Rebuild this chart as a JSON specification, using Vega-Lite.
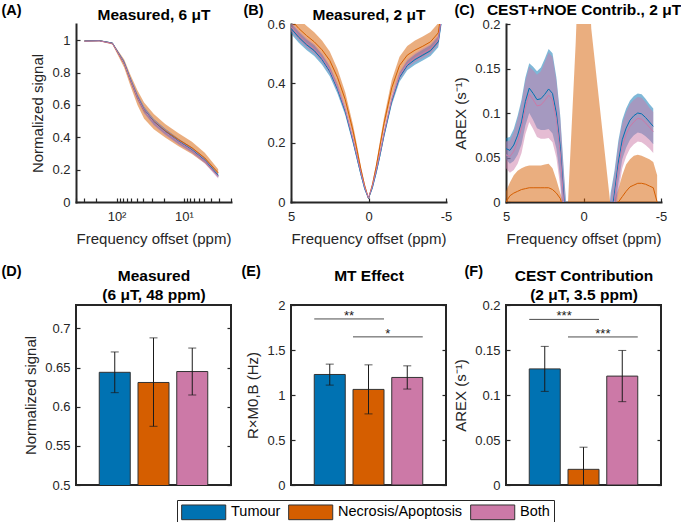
{
"$schema": "https://vega.github.io/schema/vega-lite/v6.json",
"background": "white",
"padding": {"left": 0, "top": 2, "right": 0, "bottom": 0},
"config": {
 "font": "Liberation Sans",
 "view": {"stroke": null},
 "axis": {"grid": false, "domainColor": "#262626", "domainWidth": 2, "domainCap": "square", "tickColor": "#262626", "tickWidth": 1.2, "tickSize": -4, "labelFontSize": 13, "labelColor": "#262626", "titleFontSize": 15, "titleFontWeight": "normal", "titleColor": "#262626", "labelOverlap": false, "labelFlush": false},
 "axisX": {"labelPadding": 12, "titlePadding": 8},
 "axisY": {"labelPadding": 10, "titlePadding": 6}
},
"datasets": {
 "A": [
  {"g":"Necrosis/Apoptosis","x":300,"m":0.995,"lo":0.992,"hi":0.998},
  {"g":"Necrosis/Apoptosis","x":180,"m":0.997,"lo":0.994,"hi":1.0},
  {"g":"Necrosis/Apoptosis","x":115,"m":0.98,"lo":0.974,"hi":0.986},
  {"g":"Necrosis/Apoptosis","x":77,"m":0.855,"lo":0.83,"hi":0.88},
  {"g":"Necrosis/Apoptosis","x":62,"m":0.75,"lo":0.715,"hi":0.785},
  {"g":"Necrosis/Apoptosis","x":49,"m":0.645,"lo":0.6,"hi":0.69},
  {"g":"Necrosis/Apoptosis","x":39,"m":0.565,"lo":0.515,"hi":0.615},
  {"g":"Necrosis/Apoptosis","x":28,"m":0.497,"lo":0.45,"hi":0.544},
  {"g":"Necrosis/Apoptosis","x":19,"m":0.44,"lo":0.398,"hi":0.482},
  {"g":"Necrosis/Apoptosis","x":12,"m":0.385,"lo":0.345,"hi":0.425},
  {"g":"Necrosis/Apoptosis","x":7.6,"m":0.335,"lo":0.297,"hi":0.373},
  {"g":"Necrosis/Apoptosis","x":4.9,"m":0.272,"lo":0.24,"hi":0.304},
  {"g":"Necrosis/Apoptosis","x":3.1,"m":0.18,"lo":0.158,"hi":0.202},
  {"g":"Tumour","x":300,"m":0.995,"lo":0.993,"hi":0.997},
  {"g":"Tumour","x":180,"m":0.997,"lo":0.995,"hi":0.999},
  {"g":"Tumour","x":115,"m":0.982,"lo":0.979,"hi":0.985},
  {"g":"Tumour","x":77,"m":0.86,"lo":0.848,"hi":0.872},
  {"g":"Tumour","x":62,"m":0.755,"lo":0.74,"hi":0.77},
  {"g":"Tumour","x":49,"m":0.65,"lo":0.632,"hi":0.668},
  {"g":"Tumour","x":39,"m":0.57,"lo":0.552,"hi":0.588},
  {"g":"Tumour","x":28,"m":0.495,"lo":0.477,"hi":0.513},
  {"g":"Tumour","x":19,"m":0.435,"lo":0.418,"hi":0.452},
  {"g":"Tumour","x":12,"m":0.375,"lo":0.359,"hi":0.391},
  {"g":"Tumour","x":7.6,"m":0.322,"lo":0.307,"hi":0.337},
  {"g":"Tumour","x":4.9,"m":0.258,"lo":0.244,"hi":0.272},
  {"g":"Tumour","x":3.1,"m":0.163,"lo":0.151,"hi":0.175},
  {"g":"Both","x":300,"m":0.994,"lo":0.992,"hi":0.996},
  {"g":"Both","x":180,"m":0.996,"lo":0.994,"hi":0.998},
  {"g":"Both","x":115,"m":0.98,"lo":0.976,"hi":0.984},
  {"g":"Both","x":77,"m":0.857,"lo":0.843,"hi":0.871},
  {"g":"Both","x":62,"m":0.752,"lo":0.735,"hi":0.769},
  {"g":"Both","x":49,"m":0.647,"lo":0.627,"hi":0.667},
  {"g":"Both","x":39,"m":0.567,"lo":0.547,"hi":0.587},
  {"g":"Both","x":28,"m":0.492,"lo":0.472,"hi":0.512},
  {"g":"Both","x":19,"m":0.432,"lo":0.413,"hi":0.451},
  {"g":"Both","x":12,"m":0.372,"lo":0.354,"hi":0.39},
  {"g":"Both","x":7.6,"m":0.318,"lo":0.301,"hi":0.335},
  {"g":"Both","x":4.9,"m":0.254,"lo":0.238,"hi":0.27},
  {"g":"Both","x":3.1,"m":0.158,"lo":0.145,"hi":0.171}
 ],
 "B": [
  {"g":"Necrosis/Apoptosis","x":5,"m":0.615,"lo":0.582,"hi":0.648},
  {"g":"Necrosis/Apoptosis","x":4.5,"m":0.585,"lo":0.552,"hi":0.618},
  {"g":"Necrosis/Apoptosis","x":4,"m":0.561,"lo":0.528,"hi":0.594},
  {"g":"Necrosis/Apoptosis","x":3.5,"m":0.54,"lo":0.508,"hi":0.572},
  {"g":"Necrosis/Apoptosis","x":3,"m":0.513,"lo":0.482,"hi":0.544},
  {"g":"Necrosis/Apoptosis","x":2.5,"m":0.477,"lo":0.447,"hi":0.507},
  {"g":"Necrosis/Apoptosis","x":2,"m":0.42,"lo":0.392,"hi":0.448},
  {"g":"Necrosis/Apoptosis","x":1.5,"m":0.345,"lo":0.32,"hi":0.37},
  {"g":"Necrosis/Apoptosis","x":1,"m":0.24,"lo":0.22,"hi":0.26},
  {"g":"Necrosis/Apoptosis","x":0.75,"m":0.178,"lo":0.162,"hi":0.194},
  {"g":"Necrosis/Apoptosis","x":0.5,"m":0.112,"lo":0.101,"hi":0.123},
  {"g":"Necrosis/Apoptosis","x":0.25,"m":0.056,"lo":0.05,"hi":0.062},
  {"g":"Necrosis/Apoptosis","x":0,"m":0.012,"lo":0.009,"hi":0.015},
  {"g":"Necrosis/Apoptosis","x":-0.25,"m":0.058,"lo":0.052,"hi":0.064},
  {"g":"Necrosis/Apoptosis","x":-0.5,"m":0.12,"lo":0.109,"hi":0.131},
  {"g":"Necrosis/Apoptosis","x":-0.75,"m":0.193,"lo":0.177,"hi":0.209},
  {"g":"Necrosis/Apoptosis","x":-1,"m":0.265,"lo":0.245,"hi":0.285},
  {"g":"Necrosis/Apoptosis","x":-1.5,"m":0.385,"lo":0.359,"hi":0.411},
  {"g":"Necrosis/Apoptosis","x":-2,"m":0.46,"lo":0.43,"hi":0.49},
  {"g":"Necrosis/Apoptosis","x":-2.5,"m":0.495,"lo":0.464,"hi":0.526},
  {"g":"Necrosis/Apoptosis","x":-3,"m":0.512,"lo":0.48,"hi":0.544},
  {"g":"Necrosis/Apoptosis","x":-3.5,"m":0.525,"lo":0.492,"hi":0.558},
  {"g":"Necrosis/Apoptosis","x":-4,"m":0.54,"lo":0.507,"hi":0.573},
  {"g":"Necrosis/Apoptosis","x":-4.5,"m":0.57,"lo":0.537,"hi":0.603},
  {"g":"Necrosis/Apoptosis","x":-5,"m":0.75,"lo":0.717,"hi":0.783},
  {"g":"Tumour","x":5,"m":0.585,"lo":0.567,"hi":0.603},
  {"g":"Tumour","x":4.5,"m":0.555,"lo":0.537,"hi":0.573},
  {"g":"Tumour","x":4,"m":0.53,"lo":0.512,"hi":0.548},
  {"g":"Tumour","x":3.5,"m":0.51,"lo":0.492,"hi":0.528},
  {"g":"Tumour","x":3,"m":0.48,"lo":0.463,"hi":0.497},
  {"g":"Tumour","x":2.5,"m":0.44,"lo":0.424,"hi":0.456},
  {"g":"Tumour","x":2,"m":0.38,"lo":0.365,"hi":0.395},
  {"g":"Tumour","x":1.5,"m":0.305,"lo":0.292,"hi":0.318},
  {"g":"Tumour","x":1,"m":0.205,"lo":0.195,"hi":0.215},
  {"g":"Tumour","x":0.75,"m":0.15,"lo":0.142,"hi":0.158},
  {"g":"Tumour","x":0.5,"m":0.095,"lo":0.089,"hi":0.101},
  {"g":"Tumour","x":0.25,"m":0.045,"lo":0.041,"hi":0.049},
  {"g":"Tumour","x":0,"m":0.012,"lo":0.01,"hi":0.014},
  {"g":"Tumour","x":-0.25,"m":0.048,"lo":0.044,"hi":0.052},
  {"g":"Tumour","x":-0.5,"m":0.1,"lo":0.094,"hi":0.106},
  {"g":"Tumour","x":-0.75,"m":0.16,"lo":0.152,"hi":0.168},
  {"g":"Tumour","x":-1,"m":0.225,"lo":0.215,"hi":0.235},
  {"g":"Tumour","x":-1.5,"m":0.34,"lo":0.327,"hi":0.353},
  {"g":"Tumour","x":-2,"m":0.42,"lo":0.405,"hi":0.435},
  {"g":"Tumour","x":-2.5,"m":0.46,"lo":0.444,"hi":0.476},
  {"g":"Tumour","x":-3,"m":0.48,"lo":0.463,"hi":0.497},
  {"g":"Tumour","x":-3.5,"m":0.495,"lo":0.477,"hi":0.513},
  {"g":"Tumour","x":-4,"m":0.51,"lo":0.492,"hi":0.528},
  {"g":"Tumour","x":-4.5,"m":0.54,"lo":0.522,"hi":0.558},
  {"g":"Tumour","x":-5,"m":0.72,"lo":0.702,"hi":0.738},
  {"g":"Both","x":5,"m":0.591,"lo":0.575,"hi":0.607},
  {"g":"Both","x":4.5,"m":0.561,"lo":0.545,"hi":0.577},
  {"g":"Both","x":4,"m":0.536,"lo":0.52,"hi":0.552},
  {"g":"Both","x":3.5,"m":0.516,"lo":0.5,"hi":0.532},
  {"g":"Both","x":3,"m":0.486,"lo":0.471,"hi":0.501},
  {"g":"Both","x":2.5,"m":0.446,"lo":0.432,"hi":0.46},
  {"g":"Both","x":2,"m":0.386,"lo":0.373,"hi":0.399},
  {"g":"Both","x":1.5,"m":0.311,"lo":0.3,"hi":0.322},
  {"g":"Both","x":1,"m":0.211,"lo":0.202,"hi":0.22},
  {"g":"Both","x":0.75,"m":0.156,"lo":0.149,"hi":0.163},
  {"g":"Both","x":0.5,"m":0.1,"lo":0.095,"hi":0.105},
  {"g":"Both","x":0.25,"m":0.05,"lo":0.046,"hi":0.054},
  {"g":"Both","x":0,"m":0.013,"lo":0.011,"hi":0.015},
  {"g":"Both","x":-0.25,"m":0.053,"lo":0.049,"hi":0.057},
  {"g":"Both","x":-0.5,"m":0.106,"lo":0.1,"hi":0.112},
  {"g":"Both","x":-0.75,"m":0.166,"lo":0.159,"hi":0.173},
  {"g":"Both","x":-1,"m":0.231,"lo":0.222,"hi":0.24},
  {"g":"Both","x":-1.5,"m":0.346,"lo":0.334,"hi":0.358},
  {"g":"Both","x":-2,"m":0.426,"lo":0.412,"hi":0.44},
  {"g":"Both","x":-2.5,"m":0.466,"lo":0.452,"hi":0.48},
  {"g":"Both","x":-3,"m":0.486,"lo":0.471,"hi":0.501},
  {"g":"Both","x":-3.5,"m":0.501,"lo":0.485,"hi":0.517},
  {"g":"Both","x":-4,"m":0.516,"lo":0.5,"hi":0.532},
  {"g":"Both","x":-4.5,"m":0.546,"lo":0.53,"hi":0.562},
  {"g":"Both","x":-5,"m":0.726,"lo":0.71,"hi":0.742}
 ],
 "C": [
  {"g":"Necrosis/Apoptosis","x":5,"m":0.0,"lo":-0.012,"hi":0.012},
  {"g":"Necrosis/Apoptosis","x":4.75,"m":0.007,"lo":-0.008,"hi":0.022},
  {"g":"Necrosis/Apoptosis","x":4.5,"m":0.01,"lo":-0.01,"hi":0.03},
  {"g":"Necrosis/Apoptosis","x":4.25,"m":0.012,"lo":-0.011,"hi":0.035},
  {"g":"Necrosis/Apoptosis","x":4,"m":0.014,"lo":-0.01,"hi":0.038},
  {"g":"Necrosis/Apoptosis","x":3.75,"m":0.015,"lo":-0.01,"hi":0.04},
  {"g":"Necrosis/Apoptosis","x":3.5,"m":0.016,"lo":-0.009,"hi":0.041},
  {"g":"Necrosis/Apoptosis","x":3.25,"m":0.016,"lo":-0.009,"hi":0.041},
  {"g":"Necrosis/Apoptosis","x":3,"m":0.016,"lo":-0.009,"hi":0.041},
  {"g":"Necrosis/Apoptosis","x":2.75,"m":0.016,"lo":-0.009,"hi":0.041},
  {"g":"Necrosis/Apoptosis","x":2.5,"m":0.016,"lo":-0.01,"hi":0.042},
  {"g":"Necrosis/Apoptosis","x":2.25,"m":0.016,"lo":-0.011,"hi":0.043},
  {"g":"Necrosis/Apoptosis","x":2,"m":0.014,"lo":-0.01,"hi":0.038},
  {"g":"Necrosis/Apoptosis","x":1.75,"m":0.01,"lo":-0.005,"hi":0.025},
  {"g":"Necrosis/Apoptosis","x":1.5,"m":0.004,"lo":-0.002,"hi":0.01},
  {"g":"Necrosis/Apoptosis","x":1.25,"m":-0.01,"lo":-0.018,"hi":-0.002},
  {"g":"Necrosis/Apoptosis","x":1,"m":-0.03,"lo":-0.06,"hi":0.0},
  {"g":"Necrosis/Apoptosis","x":0.75,"m":-0.06,"lo":-0.21,"hi":0.09},
  {"g":"Necrosis/Apoptosis","x":0.5,"m":-0.1,"lo":-0.38,"hi":0.18},
  {"g":"Necrosis/Apoptosis","x":0.25,"m":-0.15,"lo":-0.6,"hi":0.3},
  {"g":"Necrosis/Apoptosis","x":0,"m":-0.2,"lo":-0.8,"hi":0.4},
  {"g":"Necrosis/Apoptosis","x":-0.25,"m":-0.15,"lo":-0.6,"hi":0.3},
  {"g":"Necrosis/Apoptosis","x":-0.5,"m":-0.1,"lo":-0.395,"hi":0.195},
  {"g":"Necrosis/Apoptosis","x":-0.75,"m":-0.07,"lo":-0.295,"hi":0.155},
  {"g":"Necrosis/Apoptosis","x":-1,"m":-0.04,"lo":-0.195,"hi":0.115},
  {"g":"Necrosis/Apoptosis","x":-1.25,"m":-0.03,"lo":-0.135,"hi":0.075},
  {"g":"Necrosis/Apoptosis","x":-1.5,"m":-0.02,"lo":-0.075,"hi":0.035},
  {"g":"Necrosis/Apoptosis","x":-1.75,"m":-0.012,"lo":-0.019,"hi":-0.005},
  {"g":"Necrosis/Apoptosis","x":-2,"m":-0.005,"lo":-0.013,"hi":0.003},
  {"g":"Necrosis/Apoptosis","x":-2.25,"m":0.0,"lo":-0.015,"hi":0.015},
  {"g":"Necrosis/Apoptosis","x":-2.5,"m":0.006,"lo":-0.018,"hi":0.03},
  {"g":"Necrosis/Apoptosis","x":-2.75,"m":0.012,"lo":-0.018,"hi":0.042},
  {"g":"Necrosis/Apoptosis","x":-3,"m":0.017,"lo":-0.014,"hi":0.048},
  {"g":"Necrosis/Apoptosis","x":-3.25,"m":0.019,"lo":-0.014,"hi":0.052},
  {"g":"Necrosis/Apoptosis","x":-3.5,"m":0.021,"lo":-0.011,"hi":0.053},
  {"g":"Necrosis/Apoptosis","x":-3.75,"m":0.021,"lo":-0.01,"hi":0.052},
  {"g":"Necrosis/Apoptosis","x":-4,"m":0.02,"lo":-0.01,"hi":0.05},
  {"g":"Necrosis/Apoptosis","x":-4.25,"m":0.018,"lo":-0.012,"hi":0.048},
  {"g":"Necrosis/Apoptosis","x":-4.5,"m":0.016,"lo":-0.013,"hi":0.045},
  {"g":"Necrosis/Apoptosis","x":-4.75,"m":0.0,"lo":-0.03,"hi":0.03},
  {"g":"Tumour","x":5,"m":0.06,"lo":0.048,"hi":0.072},
  {"g":"Tumour","x":4.75,"m":0.058,"lo":0.043,"hi":0.073},
  {"g":"Tumour","x":4.5,"m":0.064,"lo":0.046,"hi":0.082},
  {"g":"Tumour","x":4.25,"m":0.075,"lo":0.053,"hi":0.097},
  {"g":"Tumour","x":4,"m":0.09,"lo":0.065,"hi":0.115},
  {"g":"Tumour","x":3.75,"m":0.113,"lo":0.086,"hi":0.14},
  {"g":"Tumour","x":3.5,"m":0.128,"lo":0.1,"hi":0.156},
  {"g":"Tumour","x":3.25,"m":0.122,"lo":0.092,"hi":0.152},
  {"g":"Tumour","x":3,"m":0.115,"lo":0.083,"hi":0.147},
  {"g":"Tumour","x":2.75,"m":0.116,"lo":0.081,"hi":0.151},
  {"g":"Tumour","x":2.5,"m":0.121,"lo":0.081,"hi":0.161},
  {"g":"Tumour","x":2.25,"m":0.127,"lo":0.082,"hi":0.172},
  {"g":"Tumour","x":2,"m":0.122,"lo":0.077,"hi":0.167},
  {"g":"Tumour","x":1.75,"m":0.1,"lo":0.06,"hi":0.14},
  {"g":"Tumour","x":1.5,"m":0.062,"lo":0.027,"hi":0.097},
  {"g":"Tumour","x":1.25,"m":0.0,"lo":-0.03,"hi":0.03},
  {"g":"Tumour","x":1,"m":-0.06,"lo":-0.09,"hi":-0.03},
  {"g":"Tumour","x":0.5,"m":-0.3,"lo":-0.33,"hi":-0.27},
  {"g":"Tumour","x":0,"m":-0.5,"lo":-0.53,"hi":-0.47},
  {"g":"Tumour","x":-0.5,"m":-0.3,"lo":-0.33,"hi":-0.27},
  {"g":"Tumour","x":-1,"m":-0.15,"lo":-0.18,"hi":-0.12},
  {"g":"Tumour","x":-1.5,"m":-0.08,"lo":-0.11,"hi":-0.05},
  {"g":"Tumour","x":-1.75,"m":-0.02,"lo":-0.05,"hi":0.01},
  {"g":"Tumour","x":-2,"m":0.01,"lo":-0.015,"hi":0.035},
  {"g":"Tumour","x":-2.25,"m":0.045,"lo":0.021,"hi":0.069},
  {"g":"Tumour","x":-2.5,"m":0.07,"lo":0.048,"hi":0.092},
  {"g":"Tumour","x":-2.75,"m":0.083,"lo":0.061,"hi":0.105},
  {"g":"Tumour","x":-3,"m":0.092,"lo":0.07,"hi":0.114},
  {"g":"Tumour","x":-3.25,"m":0.097,"lo":0.075,"hi":0.119},
  {"g":"Tumour","x":-3.5,"m":0.1,"lo":0.078,"hi":0.122},
  {"g":"Tumour","x":-3.75,"m":0.099,"lo":0.077,"hi":0.121},
  {"g":"Tumour","x":-4,"m":0.095,"lo":0.074,"hi":0.116},
  {"g":"Tumour","x":-4.25,"m":0.09,"lo":0.07,"hi":0.11},
  {"g":"Tumour","x":-4.5,"m":0.085,"lo":0.065,"hi":0.105},
  {"g":"Both","x":5,"m":0.053,"lo":0.038,"hi":0.068},
  {"g":"Both","x":4.75,"m":0.051,"lo":0.033,"hi":0.069},
  {"g":"Both","x":4.5,"m":0.057,"lo":0.036,"hi":0.078},
  {"g":"Both","x":4.25,"m":0.068,"lo":0.043,"hi":0.093},
  {"g":"Both","x":4,"m":0.083,"lo":0.055,"hi":0.111},
  {"g":"Both","x":3.75,"m":0.106,"lo":0.076,"hi":0.136},
  {"g":"Both","x":3.5,"m":0.121,"lo":0.09,"hi":0.152},
  {"g":"Both","x":3.25,"m":0.115,"lo":0.082,"hi":0.148},
  {"g":"Both","x":3,"m":0.108,"lo":0.073,"hi":0.143},
  {"g":"Both","x":2.75,"m":0.109,"lo":0.071,"hi":0.147},
  {"g":"Both","x":2.5,"m":0.114,"lo":0.071,"hi":0.157},
  {"g":"Both","x":2.25,"m":0.12,"lo":0.072,"hi":0.168},
  {"g":"Both","x":2,"m":0.115,"lo":0.067,"hi":0.163},
  {"g":"Both","x":1.75,"m":0.093,"lo":0.05,"hi":0.136},
  {"g":"Both","x":1.5,"m":0.055,"lo":0.017,"hi":0.093},
  {"g":"Both","x":1.25,"m":-0.007,"lo":-0.04,"hi":0.026},
  {"g":"Both","x":1,"m":-0.067,"lo":-0.1,"hi":-0.034},
  {"g":"Both","x":0.5,"m":-0.307,"lo":-0.34,"hi":-0.274},
  {"g":"Both","x":0,"m":-0.507,"lo":-0.54,"hi":-0.474},
  {"g":"Both","x":-0.5,"m":-0.307,"lo":-0.34,"hi":-0.274},
  {"g":"Both","x":-1,"m":-0.157,"lo":-0.19,"hi":-0.124},
  {"g":"Both","x":-1.5,"m":-0.087,"lo":-0.12,"hi":-0.054},
  {"g":"Both","x":-1.75,"m":-0.027,"lo":-0.06,"hi":0.006},
  {"g":"Both","x":-2,"m":0.003,"lo":-0.025,"hi":0.031},
  {"g":"Both","x":-2.25,"m":0.038,"lo":0.011,"hi":0.065},
  {"g":"Both","x":-2.5,"m":0.063,"lo":0.038,"hi":0.088},
  {"g":"Both","x":-2.75,"m":0.076,"lo":0.051,"hi":0.101},
  {"g":"Both","x":-3,"m":0.085,"lo":0.06,"hi":0.11},
  {"g":"Both","x":-3.25,"m":0.09,"lo":0.065,"hi":0.115},
  {"g":"Both","x":-3.5,"m":0.094,"lo":0.068,"hi":0.118},
  {"g":"Both","x":-3.75,"m":0.093,"lo":0.067,"hi":0.117},
  {"g":"Both","x":-4,"m":0.089,"lo":0.064,"hi":0.112},
  {"g":"Both","x":-4.25,"m":0.084,"lo":0.06,"hi":0.106},
  {"g":"Both","x":-4.5,"m":0.079,"lo":0.055,"hi":0.101}
 ],
 "D": [
  {"g":"Tumour","m":0.644,"lo":0.618,"hi":0.67},
  {"g":"Necrosis/Apoptosis","m":0.631,"lo":0.575,"hi":0.688},
  {"g":"Both","m":0.645,"lo":0.615,"hi":0.675}
 ],
 "E": [
  {"g":"Tumour","m":1.228,"lo":1.11,"hi":1.343},
  {"g":"Necrosis/Apoptosis","m":1.062,"lo":0.79,"hi":1.335},
  {"g":"Both","m":1.195,"lo":1.066,"hi":1.324}
 ],
 "F": [
  {"g":"Tumour","m":0.129,"lo":0.104,"hi":0.154},
  {"g":"Necrosis/Apoptosis","m":0.0174,"lo":-0.008,"hi":0.042},
  {"g":"Both","m":0.121,"lo":0.0926,"hi":0.1495}
 ],
 "Esig": [
  {"a":"Tumour","b":"Necrosis/Apoptosis","y":1.845,"s":"**"},
  {"a":"Necrosis/Apoptosis","b":"Both","y":1.646,"s":"*"}
 ],
 "Fsig": [
  {"a":"Tumour","b":"Necrosis/Apoptosis","y":0.184,"s":"***"},
  {"a":"Necrosis/Apoptosis","b":"Both","y":0.1645,"s":"***"}
 ]
},
"columns": 3,
"spacing": {"row": 103, "column": 60},
"bounds": "flush",
"resolve": {"legend": {"color": "independent"}},
"concat": [
  {"width": 155, "height": 178, "data": {"name": "A"},
   "layer": [
    {"mark": {"type": "area", "opacity": 0.5, "clip": true},
     "encoding": {
      "x": {"field": "x", "type": "quantitative", "scale": {"type": "log", "domain": [2, 400], "reverse": true, "nice": false}, "axis": {"orient": "bottom", "title": "Frequency offset (ppm)", "values": [2,3,4,5,6,7,8,9,10,20,30,40,50,60,70,80,90,100,200,300,400], "labelExpr": "datum.value == 100 ? '10²' : datum.value == 10 ? '10¹' : ''"}},
      "y": {"field": "lo", "type": "quantitative", "scale": {"domain": [0, 1.1], "nice": false}, "axis": {"orient": "left", "title": "Normalized signal", "values": [0,0.2,0.4,0.6,0.8,1], "format": ".1~f"}},
      "y2": {"field": "hi"},
      "color": {"field": "g", "type": "nominal", "scale": {"domain": ["Tumour","Necrosis/Apoptosis","Both"], "range": ["#0072B2","#D55E00","#CC79A7"]}, "legend": null}
     }},
    {"mark": {"type": "line", "strokeWidth": 1, "clip": true},
     "encoding": {
      "x": {"field": "x", "type": "quantitative", "axis": {"orient": "top", "title": "Measured, 6 μT", "labels": false, "ticks": false, "domain": false, "titleX": 77.5, "titleY": -5, "titleAngle": 0, "titleAlign": "center", "titleBaseline": "alphabetic", "titleFontWeight": "bold", "titleFontSize": 15.5, "titleColor": "#000000"}},
      "y": {"field": "m", "type": "quantitative", "axis": {"orient": "right", "title": "(A)", "labels": false, "ticks": false, "domain": false, "titleX": -230, "titleY": -10, "titleAngle": 0, "titleAlign": "left", "titleBaseline": "alphabetic", "titleFontWeight": "bold", "titleFontSize": 14.5, "titleColor": "#000000"}},
      "color": {"field": "g", "type": "nominal", "scale": {"domain": ["Tumour","Necrosis/Apoptosis","Both"], "range": ["#0072B2","#D55E00","#CC79A7"]}, "legend": null}
     }}
   ]},
  {"width": 155, "height": 178, "data": {"name": "B"},
   "layer": [
    {"mark": {"type": "area", "opacity": 0.5, "clip": true},
     "encoding": {
      "x": {"field": "x", "type": "quantitative", "scale": {"domain": [-5, 5], "reverse": true, "nice": false}, "axis": {"orient": "bottom", "title": "Frequency offset (ppm)", "values": [5, 0, -5], "labelExpr": "'' + datum.value"}},
      "y": {"field": "lo", "type": "quantitative", "scale": {"domain": [0, 0.6], "nice": false}, "axis": {"orient": "left", "title": null, "values": [0,0.2,0.4,0.6], "format": ".1~f"}},
      "y2": {"field": "hi"},
      "color": {"field": "g", "type": "nominal", "scale": {"domain": ["Tumour","Necrosis/Apoptosis","Both"], "range": ["#0072B2","#D55E00","#CC79A7"]}, "legend": null}
     }},
    {"mark": {"type": "line", "strokeWidth": 1, "clip": true},
     "encoding": {
      "x": {"field": "x", "type": "quantitative", "axis": {"orient": "top", "title": "Measured, 2 μT", "labels": false, "ticks": false, "domain": false, "titleX": 77.5, "titleY": -5, "titleAngle": 0, "titleAlign": "center", "titleBaseline": "alphabetic", "titleFontWeight": "bold", "titleFontSize": 15.5, "titleColor": "#000000"}},
      "y": {"field": "m", "type": "quantitative", "axis": {"orient": "right", "title": "(B)", "labels": false, "ticks": false, "domain": false, "titleX": -203, "titleY": -10, "titleAngle": 0, "titleAlign": "left", "titleBaseline": "alphabetic", "titleFontWeight": "bold", "titleFontSize": 14.5, "titleColor": "#000000"}},
      "color": {"field": "g", "type": "nominal", "scale": {"domain": ["Tumour","Necrosis/Apoptosis","Both"], "range": ["#0072B2","#D55E00","#CC79A7"]}, "legend": null}
     }}
   ]},
  {"width": 155, "height": 178, "data": {"name": "C"},
   "layer": [
    {"mark": {"type": "area", "opacity": 0.5, "clip": true},
     "encoding": {
      "x": {"field": "x", "type": "quantitative", "scale": {"domain": [-5, 5], "reverse": true, "nice": false}, "axis": {"orient": "bottom", "title": "Frequency offset (ppm)", "values": [5, 0, -5], "labelExpr": "'' + datum.value"}},
      "y": {"field": "lo", "type": "quantitative", "scale": {"domain": [0, 0.2], "nice": false}, "axis": {"orient": "left", "title": "AREX (s⁻¹)", "values": [0,0.05,0.1,0.15,0.2], "format": ".2~f"}},
      "y2": {"field": "hi"},
      "color": {"field": "g", "type": "nominal", "scale": {"domain": ["Tumour","Necrosis/Apoptosis","Both"], "range": ["#0072B2","#D55E00","#CC79A7"]}, "legend": null}
     }},
    {"mark": {"type": "line", "strokeWidth": 1, "clip": true},
     "encoding": {
      "x": {"field": "x", "type": "quantitative", "axis": {"orient": "top", "title": "CEST+rNOE Contrib., 2 μT", "labels": false, "ticks": false, "domain": false, "titleX": 77.5, "titleY": -10, "titleAngle": 0, "titleAlign": "center", "titleBaseline": "alphabetic", "titleFontWeight": "bold", "titleFontSize": 15.5, "titleColor": "#000000"}},
      "y": {"field": "m", "type": "quantitative", "axis": {"orient": "right", "title": "(C)", "labels": false, "ticks": false, "domain": false, "titleX": -207, "titleY": -10, "titleAngle": 0, "titleAlign": "left", "titleBaseline": "alphabetic", "titleFontWeight": "bold", "titleFontSize": 14.5, "titleColor": "#000000"}},
      "color": {"field": "g", "type": "nominal", "scale": {"domain": ["Tumour","Necrosis/Apoptosis","Both"], "range": ["#0072B2","#D55E00","#CC79A7"]}, "legend": null}
     }}
   ]},
  {"width": 155, "height": 180, "view": {"stroke": "#262626", "strokeWidth": 2}, "data": {"name": "D"},
   "layer": [
    {"mark": {"type": "bar", "stroke": "#333333", "strokeWidth": 1, "clip": true},
     "encoding": {
      "x": {"field": "g", "type": "nominal", "scale": {"type": "band", "domain": ["Tumour","Necrosis/Apoptosis","Both"], "paddingInner": 0.2, "paddingOuter": 0.6}, "axis": {"orient": "bottom", "title": null, "labels": false, "ticks": false, "domain": false}},
      "y": {"field": "m", "type": "quantitative", "scale": {"domain": [0.5, 0.73], "nice": false, "zero": false}, "axis": {"orient": "left", "title": "Normalized signal", "values": [0.5,0.55,0.6,0.65,0.7], "format": ".2~f", "domain": false}},
      "color": {"field": "g", "type": "nominal", "scale": {"domain": ["Tumour","Necrosis/Apoptosis","Both"], "range": ["#0072B2","#D55E00","#CC79A7"]},
        "legend": {"orient": "none", "legendX": 101, "legendY": 195, "direction": "horizontal", "title": null, "symbolType": "M-1,-1H5V1H-1Z", "symbolSize": 216, "symbolStrokeColor": "#333333", "symbolStrokeWidth": 1, "symbolOpacity": 1, "labelFontSize": 14.5, "labelColor": "#000000", "labelOffset": 34, "columnPadding": 5, "padding": 4, "strokeColor": "#262626", "labelLimit": 200}}
     }},
    {"mark": {"type": "rule", "color": "#1a1a1a", "strokeWidth": 1, "clip": true},
     "encoding": {
      "x": {"field": "g", "type": "nominal", "axis": {"orient": "top", "title": ["Measured", "(6 μT, 48 ppm)"], "labels": false, "ticks": false, "domain": false, "titleX": 77.5, "titleY": -25, "titleAngle": 0, "titleAlign": "center", "titleBaseline": "alphabetic", "titleLineHeight": 19, "titleFontWeight": "bold", "titleFontSize": 15.5, "titleColor": "#000000"}},
      "y": {"field": "lo", "type": "quantitative", "axis": {"orient": "right", "title": "(D)", "labels": false, "ticks": true, "domain": false, "values": [0.5,0.55,0.6,0.65,0.7], "titleX": -230, "titleY": -30, "titleAngle": 0, "titleAlign": "left", "titleBaseline": "alphabetic", "titleFontWeight": "bold", "titleFontSize": 14.5, "titleColor": "#000000"}},
      "y2": {"field": "hi"}
     }},
    {"mark": {"type": "tick", "color": "#1a1a1a", "size": 8, "thickness": 1, "clip": true},
     "encoding": {"x": {"field": "g", "type": "nominal", "axis": null}, "y": {"field": "lo", "type": "quantitative", "axis": null}}},
    {"mark": {"type": "tick", "color": "#1a1a1a", "size": 8, "thickness": 1, "clip": true},
     "encoding": {"x": {"field": "g", "type": "nominal", "axis": null}, "y": {"field": "hi", "type": "quantitative", "axis": null}}}
   ]},
  {"width": 155, "height": 180, "view": {"stroke": "#262626", "strokeWidth": 2}, "data": {"name": "E"},
   "layer": [
    {"mark": {"type": "bar", "stroke": "#333333", "strokeWidth": 1, "clip": true},
     "encoding": {
      "x": {"field": "g", "type": "nominal", "scale": {"type": "band", "domain": ["Tumour","Necrosis/Apoptosis","Both"], "paddingInner": 0.2, "paddingOuter": 0.6}, "axis": {"orient": "bottom", "title": null, "labels": false, "ticks": false, "domain": false}},
      "y": {"field": "m", "type": "quantitative", "scale": {"domain": [0, 2], "nice": false}, "axis": {"orient": "left", "title": "R×M0,B (Hz)", "values": [0,0.5,1,1.5,2], "format": ".1~f", "domain": false}},
      "color": {"field": "g", "type": "nominal", "scale": {"domain": ["Tumour","Necrosis/Apoptosis","Both"], "range": ["#0072B2","#D55E00","#CC79A7"]}, "legend": null}
     }},
    {"mark": {"type": "rule", "color": "#1a1a1a", "strokeWidth": 1, "clip": true},
     "encoding": {
      "x": {"field": "g", "type": "nominal", "axis": {"orient": "top", "title": "MT Effect", "labels": false, "ticks": false, "domain": false, "titleX": 77.5, "titleY": -25, "titleAngle": 0, "titleAlign": "center", "titleBaseline": "alphabetic", "titleFontWeight": "bold", "titleFontSize": 15.5, "titleColor": "#000000"}},
      "y": {"field": "lo", "type": "quantitative", "axis": {"orient": "right", "title": "(E)", "labels": false, "ticks": true, "domain": false, "values": [0,0.5,1,1.5,2], "titleX": -205, "titleY": -30, "titleAngle": 0, "titleAlign": "left", "titleBaseline": "alphabetic", "titleFontWeight": "bold", "titleFontSize": 14.5, "titleColor": "#000000"}},
      "y2": {"field": "hi"}
     }},
    {"mark": {"type": "tick", "color": "#1a1a1a", "size": 8, "thickness": 1, "clip": true},
     "encoding": {"x": {"field": "g", "type": "nominal", "axis": null}, "y": {"field": "lo", "type": "quantitative", "axis": null}}},
    {"mark": {"type": "tick", "color": "#1a1a1a", "size": 8, "thickness": 1, "clip": true},
     "encoding": {"x": {"field": "g", "type": "nominal", "axis": null}, "y": {"field": "hi", "type": "quantitative", "axis": null}}},
    {"data": {"name": "Esig"}, "mark": {"type": "rule", "color": "#4d4d4d", "strokeWidth": 1},
     "encoding": {"x": {"field": "a", "type": "nominal", "bandPosition": 0, "axis": null}, "x2": {"field": "b", "bandPosition": 1}, "y": {"field": "y", "type": "quantitative", "axis": null}}},
    {"data": {"name": "Esig"}, "mark": {"type": "text", "fontSize": 13, "baseline": "alphabetic", "dy": 1, "color": "#1a1a1a"},
     "encoding": {"x": {"field": "a", "type": "nominal", "bandPosition": 1.125, "axis": null}, "y": {"field": "y", "type": "quantitative", "axis": null}, "text": {"field": "s"}}}
   ]},
  {"width": 155, "height": 180, "view": {"stroke": "#262626", "strokeWidth": 2}, "data": {"name": "F"},
   "layer": [
    {"mark": {"type": "bar", "stroke": "#333333", "strokeWidth": 1, "clip": true},
     "encoding": {
      "x": {"field": "g", "type": "nominal", "scale": {"type": "band", "domain": ["Tumour","Necrosis/Apoptosis","Both"], "paddingInner": 0.2, "paddingOuter": 0.6}, "axis": {"orient": "bottom", "title": null, "labels": false, "ticks": false, "domain": false}},
      "y": {"field": "m", "type": "quantitative", "scale": {"domain": [0, 0.2], "nice": false}, "axis": {"orient": "left", "title": "AREX (s⁻¹)", "values": [0,0.05,0.1,0.15,0.2], "format": ".2~f", "domain": false}},
      "color": {"field": "g", "type": "nominal", "scale": {"domain": ["Tumour","Necrosis/Apoptosis","Both"], "range": ["#0072B2","#D55E00","#CC79A7"]}, "legend": null}
     }},
    {"mark": {"type": "rule", "color": "#1a1a1a", "strokeWidth": 1, "clip": true},
     "encoding": {
      "x": {"field": "g", "type": "nominal", "axis": {"orient": "top", "title": ["CEST Contribution", "(2 μT, 3.5 ppm)"], "labels": false, "ticks": false, "domain": false, "titleX": 77.5, "titleY": -25, "titleAngle": 0, "titleAlign": "center", "titleBaseline": "alphabetic", "titleLineHeight": 19, "titleFontWeight": "bold", "titleFontSize": 15.5, "titleColor": "#000000"}},
      "y": {"field": "lo", "type": "quantitative", "axis": {"orient": "right", "title": "(F)", "labels": false, "ticks": true, "domain": false, "values": [0,0.05,0.1,0.15,0.2], "titleX": -197, "titleY": -30, "titleAngle": 0, "titleAlign": "left", "titleBaseline": "alphabetic", "titleFontWeight": "bold", "titleFontSize": 14.5, "titleColor": "#000000"}},
      "y2": {"field": "hi"}
     }},
    {"mark": {"type": "tick", "color": "#1a1a1a", "size": 8, "thickness": 1, "clip": true},
     "encoding": {"x": {"field": "g", "type": "nominal", "axis": null}, "y": {"field": "lo", "type": "quantitative", "axis": null}}},
    {"mark": {"type": "tick", "color": "#1a1a1a", "size": 8, "thickness": 1, "clip": true},
     "encoding": {"x": {"field": "g", "type": "nominal", "axis": null}, "y": {"field": "hi", "type": "quantitative", "axis": null}}},
    {"data": {"name": "Fsig"}, "mark": {"type": "rule", "color": "#4d4d4d", "strokeWidth": 1},
     "encoding": {"x": {"field": "a", "type": "nominal", "bandPosition": 0, "axis": null}, "x2": {"field": "b", "bandPosition": 1}, "y": {"field": "y", "type": "quantitative", "axis": null}}},
    {"data": {"name": "Fsig"}, "mark": {"type": "text", "fontSize": 13, "baseline": "alphabetic", "dy": 1, "color": "#1a1a1a"},
     "encoding": {"x": {"field": "a", "type": "nominal", "bandPosition": 1.125, "axis": null}, "y": {"field": "y", "type": "quantitative", "axis": null}, "text": {"field": "s"}}}
   ]}
]
}
